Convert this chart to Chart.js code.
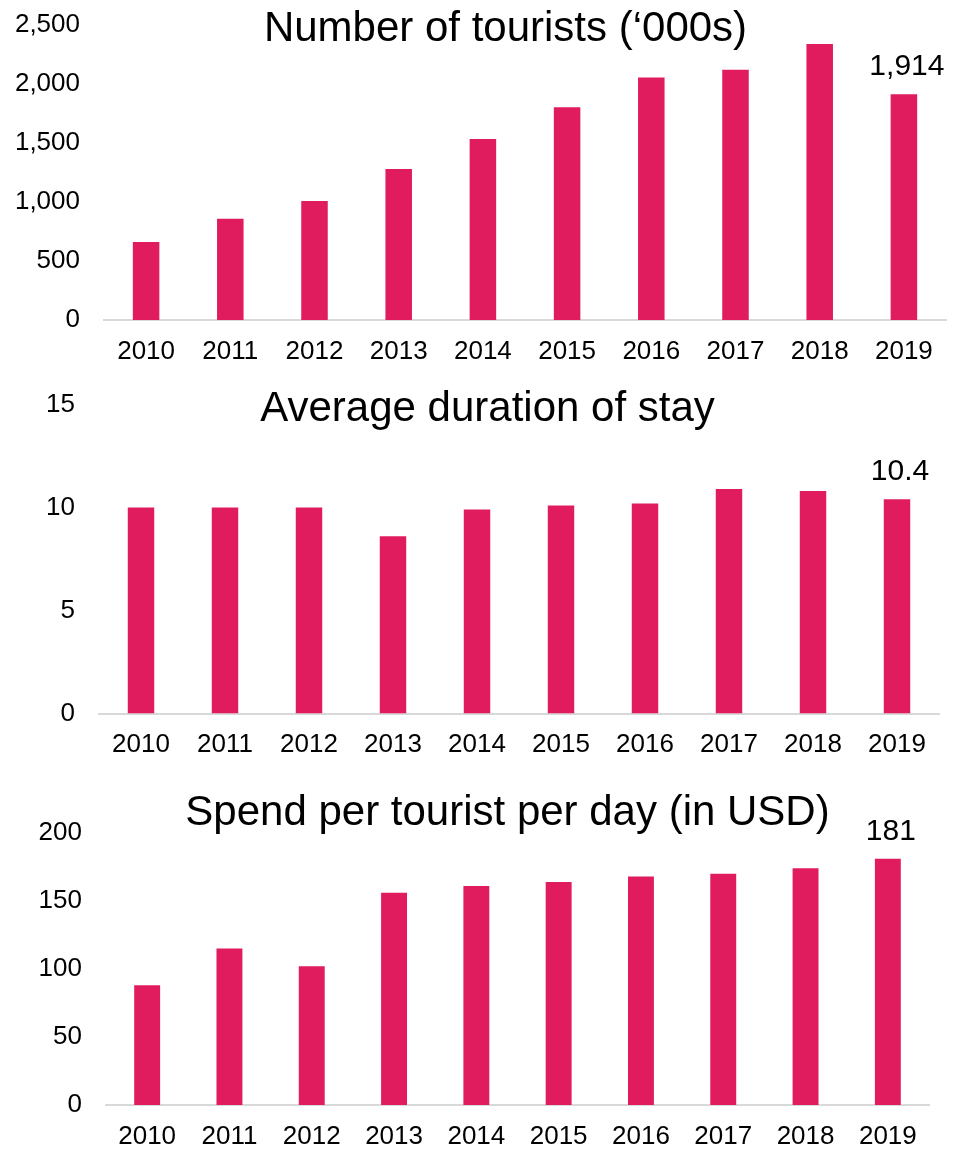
<!DOCTYPE html>
<html lang="en">
<head>
    <meta charset="UTF-8">
    <title>Tourism indicators</title>
    <script src="https://cdn.jsdelivr.net/npm/chart.js"></script>
    <style>
        body { margin: 0; background: #fff; }
        canvas { display: block; }
    </style>
</head>
<body>
    <canvas id="touristsChart" width="953" height="380"></canvas>
    <canvas id="stayChart" width="953" height="390"></canvas>
    <canvas id="spendChart" width="953" height="380"></canvas>

    <script>
        // data
        var years = ['2010', '2011', '2012', '2013', '2014', '2015', '2016', '2017', '2018', '2019'];
        var tourists = [660, 858, 1008, 1279, 1533, 1804, 2056, 2121, 2338, 1914];
        var stayDays = [10.0, 10.0, 10.0, 8.6, 9.9, 10.1, 10.2, 10.9, 10.8, 10.4];
        var spendUsd = [88, 115, 102, 156, 161, 164, 168, 170, 174, 181];

        var touristTicks = [0, 500, 1000, 1500, 2000, 2500];
        var stayTicks = [0, 5, 10, 15];
        var spendTicks = [0, 50, 100, 150, 200];

        var barColor = '#e01c5e';
        var fontFamily = '"Liberation Sans", Arial, sans-serif';

        // how the value on the last bar is written, per canvas
        var labelFormat = {
            touristsChart: function (v) { return v.toLocaleString('en-US'); },
            stayChart: function (v) { return v.toFixed(1); },
            spendChart: function (v) { return String(v); }
        };

        // title drawn over the plot area, like in the original slide
        var overlayTitle = {
            id: 'overlayTitle',
            afterDraw: function (chart) {
                var o = chart.options.plugins.overlayTitle;
                var ctx = chart.ctx;
                ctx.save();
                ctx.font = '42px ' + fontFamily;
                ctx.fillStyle = '#000';
                ctx.textAlign = 'center';
                ctx.textBaseline = 'alphabetic';
                ctx.fillText(o.text, chart.width / 2 + o.dx, o.y);
                ctx.restore();
            }
        };

        // value label on the last bar only
        var lastLabel = {
            id: 'lastLabel',
            afterDatasetsDraw: function (chart) {
                var meta = chart.getDatasetMeta(0);
                var i = meta.data.length - 1;
                var bar = meta.data[i];
                var fmt = labelFormat[chart.canvas.id];
                var ctx = chart.ctx;
                ctx.save();
                ctx.font = '30px ' + fontFamily;
                ctx.fillStyle = '#000';
                ctx.textAlign = 'center';
                ctx.textBaseline = 'alphabetic';
                ctx.fillText(fmt(chart.data.datasets[0].data[i]), bar.x + 3, bar.y - 19);
                ctx.restore();
            }
        };

        function makeChart(id, values, ticks, opts) {
            var ctx = document.getElementById(id).getContext('2d');
            return new Chart(ctx, {
                type: 'bar',
                data: {
                    labels: years,
                    datasets: [{
                        data: values,
                        backgroundColor: barColor,
                        borderWidth: 0,
                        barPercentage: 0.315,
                        categoryPercentage: 1
                    }]
                },
                options: {
                    responsive: false,
                    animation: false,
                    layout: { padding: { top: opts.top, right: opts.right, bottom: 0, left: 0 } },
                    plugins: {
                        legend: { display: false },
                        tooltip: { enabled: false },
                        overlayTitle: { text: opts.title, dx: opts.titleDx, y: opts.titleY }
                    },
                    scales: {
                        x: {
                            grid: { display: false, drawTicks: false },
                            border: { display: true, color: '#d9d9d9', width: 2 },
                            ticks: {
                                color: '#000',
                                padding: 16,
                                maxRotation: 0,
                                autoSkip: false,
                                font: { family: fontFamily, size: 26 }
                            },
                            afterFit: function (scale) {
                                scale.height = opts.xHeight;
                                scale.paddingLeft = 0;
                                scale.paddingRight = 0;
                            }
                        },
                        y: {
                            min: ticks[0],
                            max: ticks[ticks.length - 1],
                            afterBuildTicks: function (scale) {
                                scale.ticks = ticks.map(function (v) { return { value: v }; });
                            },
                            grid: { display: false, drawTicks: false },
                            border: { display: false },
                            ticks: {
                                color: '#000',
                                padding: opts.yPad,
                                font: { family: fontFamily, size: 26 },
                                callback: function (v) { return Number(v).toLocaleString('en-US'); }
                            },
                            afterFit: function (scale) {
                                scale.width = opts.left;
                                scale.paddingTop = 0;
                                scale.paddingBottom = 0;
                            }
                        }
                    }
                },
                plugins: [overlayTitle, lastLabel]
            });
        }

        makeChart('touristsChart', tourists, touristTicks, {
            title: 'Number of tourists (\u2018000s)', titleDx: 29, titleY: 41,
            top: 25, right: 7, left: 104, yPad: 24, xHeight: 60
        });

        makeChart('stayChart', stayDays, stayTicks, {
            title: 'Average duration of stay', titleDx: 11, titleY: 41,
            top: 24.5, right: 14, left: 99, yPad: 24, xHeight: 56.5
        });

        makeChart('spendChart', spendUsd, spendTicks, {
            title: 'Spend per tourist per day (in USD)', titleDx: 31, titleY: 55,
            top: 63, right: 24, left: 106, yPad: 24, xHeight: 45
        });
    </script>
</body>
</html>
